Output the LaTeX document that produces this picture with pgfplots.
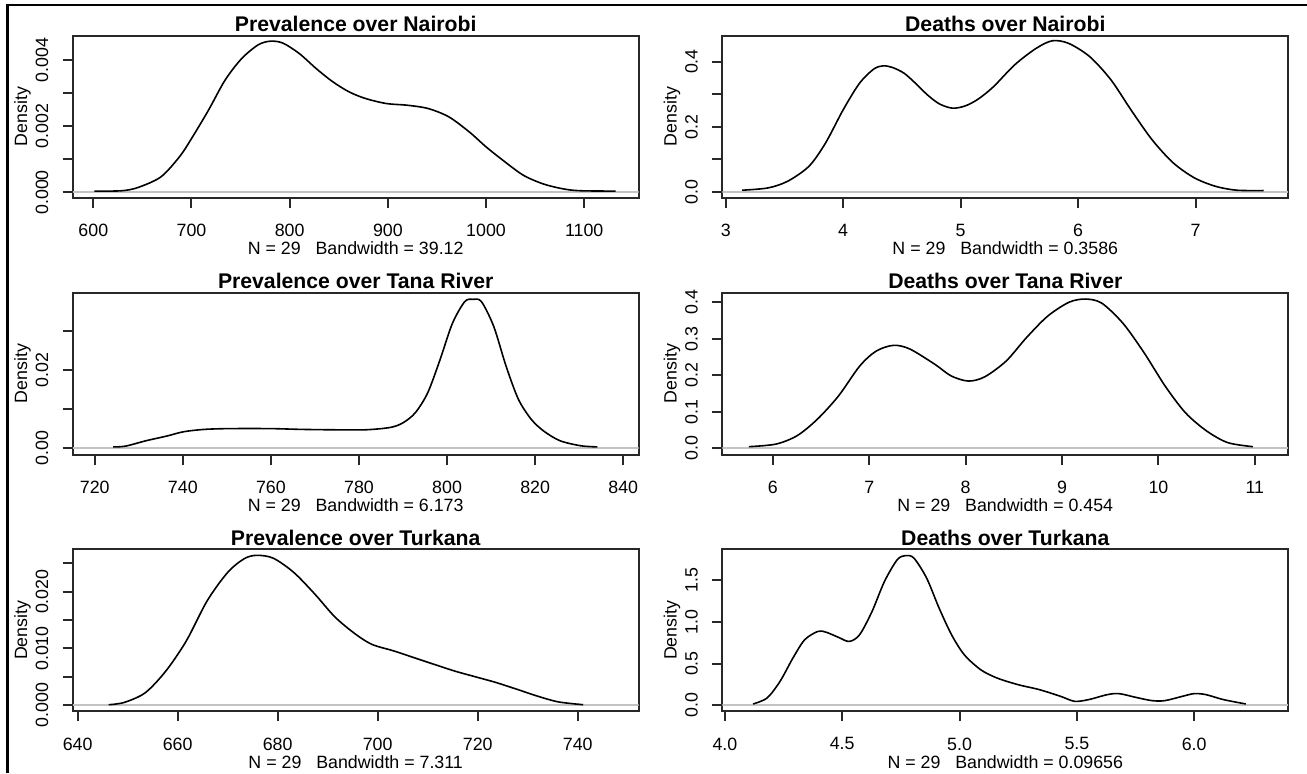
\documentclass[border=0pt]{standalone}
\usepackage{fontspec}
\setmainfont{Liberation Sans}
\usepackage{pgfplots}
\pgfplotsset{compat=1.18}
\definecolor{zerogray}{RGB}{195,195,195}
\definecolor{boxcol}{RGB}{40,40,40}
\pgfplotsset{
  every axis title shift=0pt,
  rstyle/.style={
    scale only axis, width=283pt, height=81pt,
    scaled ticks=false,
    axis line style={boxcol, line width=1pt},
    tick style={boxcol, line width=1pt},
    tick align=outside, tick pos=left, major tick length=5pt,
    ticklabel style={font=\fontsize{8.9}{10}\selectfont, text=black},
    xticklabel style={anchor=north, inner sep=0pt},
    yticklabel style={rotate=90, anchor=south, inner sep=0pt},
    xticklabel shift=8pt, yticklabel shift=7pt,
    ylabel={Density},
    label style={font=\fontsize{8.9}{10}\selectfont},
    ylabel style={at={(axis description cs:-0.0807,0.5)}, anchor=base},
    xlabel style={at={(axis description cs:0.5,-0.35)}, anchor=base},
    title style={at={(axis description cs:0.5,1.025)}, anchor=base, font=\bfseries\fontsize{10.6}{12}\selectfont},
    clip=true,
  },
  curve/.style={black, line width=0.8pt, smooth, tension=0.5},
  zline/.style={zerogray, line width=1pt},
}
\begin{document}
\begin{tikzpicture}
\path[use as bounding box] (0,0) rectangle (653.5pt,386.5pt);
\draw[black, line width=1.2pt] (3.75pt,0pt) -- (3.75pt,384pt) -- (653.5pt,384pt);

% Panel 1
\begin{axis}[rstyle, at={(36.35pt,287.65pt)}, anchor=south west,
  title={Prevalence over Nairobi}, xlabel={N = 29\ \ \ Bandwidth = 39.12},
  xmin=579, xmax=1155.5, ymin=-0.00016, ymax=0.004745,
  xtick={600,700,800,900,1000,1100}, xticklabels={600,700,800,900,1000,1100},
  ytick={0,0.001,0.002,0.003,0.004}, yticklabels={0.000,,0.002,,0.004}]
\addplot[zline] coordinates {(579,0) (1155.5,0)};
\addplot[curve] coordinates {
(601,0.00004) (628.7,0.00005) (645.6,0.00015) (668.8,0.00047) (687.8,0.00108)
(700,0.00163) (717.3,0.00249) (734.2,0.0034) (751,0.00405) (768,0.00447)
(780.6,0.00458) (793.2,0.00452) (810,0.0042) (827,0.00375) (843.9,0.00335)
(860.8,0.00304) (877.6,0.00284) (898.7,0.00269) (919.8,0.00264) (941,0.00254)
(962,0.00229) (983,0.00183) (1000,0.00138) (1016.9,0.00098) (1038,0.00052)
(1059,0.00025) (1080,0.0001) (1097,0.00005) (1132,0.00004)};
\end{axis}

% Panel 2
\begin{axis}[rstyle, at={(361.15pt,287.65pt)}, anchor=south west,
  title={Deaths over Nairobi}, xlabel={N = 29\ \ \ Bandwidth = 0.3586},
  xmin=2.971, xmax=7.79, ymin=-0.018, ymax=0.4796,
  xtick={3,4,5,6,7}, xticklabels={3,4,5,6,7},
  ytick={0,0.1,0.2,0.3,0.4}, yticklabels={0.0,,0.2,,0.4}]
\addplot[zline] coordinates {(2.971,0) (7.79,0)};
\addplot[curve] coordinates {
(3.14,0.005) (3.36,0.012) (3.53,0.033) (3.71,0.079) (3.85,0.15) (4.0,0.252)
(4.14,0.334) (4.26,0.377) (4.34,0.387) (4.42,0.382) (4.52,0.364) (4.62,0.332)
(4.72,0.297) (4.82,0.27) (4.93,0.257) (5.04,0.264) (5.15,0.285) (5.28,0.323)
(5.46,0.39) (5.64,0.44) (5.78,0.464)
(5.92,0.456) (6.1,0.415) (6.28,0.344) (6.45,0.252) (6.63,0.16) (6.81,0.089)
(6.99,0.043) (7.17,0.017) (7.35,0.005) (7.58,0.004)};
\end{axis}

% Panel 3
\begin{axis}[rstyle, at={(36.35pt,159.15pt)}, anchor=south west,
  title={Prevalence over Tana River}, xlabel={N = 29\ \ \ Bandwidth = 6.173},
  xmin=715, xmax=843.5, ymin=-0.0017, ymax=0.0399,
  xtick={720,740,760,780,800,820,840}, xticklabels={720,740,760,780,800,820,840},
  ytick={0,0.01,0.02,0.03}, yticklabels={0.00,,0.02,}]
\addplot[zline] coordinates {(715,0) (843.5,0)};
\addplot[curve] coordinates {
(724.2,0.0003) (727,0.0005) (731.7,0.0019) (736.4,0.0031) (740.2,0.0042)
(744.9,0.0048) (750.5,0.005) (759.9,0.005) (766.9,0.0048) (774,0.0047)
(781.5,0.0047) (787.1,0.0053) (790,0.0065) (792.8,0.0091) (795.6,0.0142)
(798.4,0.0227) (801.2,0.032) (804,0.0376) (805.9,0.0382) (807.8,0.0376)
(810.6,0.0312) (813.4,0.021) (816.2,0.0125) (819.1,0.0074) (821.9,0.0044)
(825.6,0.0019) (830.3,0.0006) (834.1,0.0003)};
\end{axis}

% Panel 4
\begin{axis}[rstyle, at={(361.15pt,159.15pt)}, anchor=south west,
  title={Deaths over Tana River}, xlabel={N = 29\ \ \ Bandwidth = 0.454},
  xmin=5.475, xmax=11.347, ymin=-0.018, ymax=0.4264,
  xtick={6,7,8,9,10,11}, xticklabels={6,7,8,9,10,11},
  ytick={0,0.1,0.2,0.3,0.4}, yticklabels={0.0,0.1,0.2,0.3,0.4}]
\addplot[zline] coordinates {(5.475,0) (11.347,0)};
\addplot[curve] coordinates {
(5.75,0.004) (6.03,0.011) (6.25,0.034) (6.46,0.079) (6.68,0.143) (6.9,0.225)
(7.07,0.266) (7.25,0.282) (7.42,0.272) (7.68,0.23) (7.85,0.198) (8.03,0.184)
(8.2,0.196) (8.42,0.239) (8.63,0.303) (8.85,0.362) (9.07,0.4) (9.24,0.409)
(9.41,0.398) (9.63,0.343) (9.85,0.262) (10.07,0.17) (10.28,0.097) (10.5,0.047)
(10.72,0.015) (10.98,0.004)};
\end{axis}

% Panel 5
\begin{axis}[rstyle, at={(36.35pt,30.85pt)}, anchor=south west,
  title={Prevalence over Turkana}, xlabel={N = 29\ \ \ Bandwidth = 7.311},
  xmin=639, xmax=752.2, ymin=-0.00106, ymax=0.02746,
  xtick={640,660,680,700,720,740}, xticklabels={640,660,680,700,720,740},
  ytick={0,0.005,0.01,0.015,0.02,0.025}, yticklabels={0.000,,0.010,,0.020,}]
\addplot[zline] coordinates {(639,0) (752.2,0)};
\addplot[curve] coordinates {
(646.2,0.0001) (649.3,0.0005) (653.5,0.0022) (657.6,0.006) (661.7,0.0113)
(665.9,0.0184) (670,0.0234) (673.3,0.0258) (675.8,0.0264) (679.1,0.0259)
(683.2,0.0234) (687.4,0.0196) (691.5,0.0155) (695.6,0.0125) (698.9,0.0107)
(703.1,0.0096) (707.2,0.0084) (711.3,0.0072) (715.5,0.006) (719.6,0.005)
(723.7,0.004) (727.9,0.0028) (732,0.0016) (736.1,0.0006) (741.1,0.0001)};
\end{axis}

% Panel 6
\begin{axis}[rstyle, at={(361.15pt,30.85pt)}, anchor=south west,
  title={Deaths over Turkana}, xlabel={N = 29\ \ \ Bandwidth = 0.09656},
  xmin=3.989, xmax=6.401, ymin=-0.072, ymax=1.871,
  xtick={4,4.5,5,5.5,6}, xticklabels={4.0,4.5,5.0,5.5,6.0},
  ytick={0,0.5,1,1.5}, yticklabels={0.0,0.5,1.0,1.5}]
\addplot[zline] coordinates {(3.989,0) (6.401,0)};
\addplot[curve] coordinates {
(4.12,0.016) (4.18,0.088) (4.235,0.287) (4.29,0.567) (4.34,0.786) (4.396,0.886)
(4.43,0.878) (4.485,0.814) (4.53,0.766) (4.574,0.846) (4.627,1.125) (4.68,1.485)
(4.734,1.744) (4.77,1.796) (4.806,1.764) (4.86,1.524) (4.913,1.165) (4.966,0.846)
(5.02,0.607) (5.09,0.427) (5.16,0.327) (5.25,0.247) (5.34,0.188) (5.43,0.108)
(5.49,0.048) (5.55,0.068) (5.63,0.128) (5.68,0.14) (5.75,0.096) (5.82,0.056)
(5.875,0.056) (5.95,0.108) (6.0,0.14) (6.05,0.128) (6.125,0.068) (6.22,0.016)};
\end{axis}
\end{tikzpicture}
\end{document}
